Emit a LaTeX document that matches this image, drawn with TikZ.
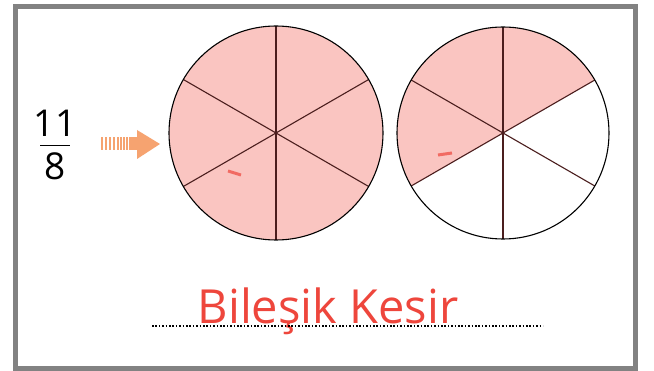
\documentclass[tikz,border=0pt]{standalone}
\usepackage{fontspec}
\setmainfont{Open Sans}
\usepackage{tikz}
\usetikzlibrary{arrows.meta,positioning,calc}

\definecolor{pinkfill}{RGB}{250,197,193}
\definecolor{spoke}{RGB}{75,30,30}
\definecolor{arroworange}{RGB}{246,163,112}
\definecolor{framegray}{RGB}{130,130,130}
\definecolor{inkred}{RGB}{238,70,60}

\begin{document}
\begin{tikzpicture}[x=1pt, y=-1pt]
  \tikzstyle{piece} = [fill=pinkfill, draw=none]
  \tikzstyle{spokeline} = [draw=spoke, line width=1.1pt]
  \tikzstyle{rim} = [draw=black, line width=1.1pt]
  \tikzstyle{inkmark} = [draw=inkred!80, line width=3pt]
  \useasboundingbox (0,0) rectangle (654,371);
  \fill[white] (0,0) rectangle (654,371);
  % frame
  \draw[framegray, line width=5pt] (15.5,6.5) rectangle (635.5,368.5);
  % fraction
  \node[font=\fontsize{37}{39}\selectfont, inner sep=1pt] (num) at (55,123) {11};
  \node[font=\fontsize{37}{39}\selectfont, inner sep=1pt] (den) at (55,166) {8};
  \draw[line width=1.6pt] (40,145.5) -- (70,145.5);
  % arrow
  \foreach \x in {101,105,109,113,116.5,120,123,126,129}
    \fill[arroworange] (\x,137.5) rectangle ++(2.2,13);
  \fill[arroworange] (131,137.5) rectangle (138,150.5);
  \fill[arroworange] (137,130) -- (160,144) -- (137,159) -- cycle;
  % left circle: all six pieces
  \coordinate (cA) at (276,133);
  \foreach \a in {30,90,150,210,270,330}
    \fill[piece] (cA) -- ++(\a:107) arc[start angle=\a, end angle=\a+60, radius=107] -- cycle;
  \draw[inkmark] (228,171) -- (241,175);
  \foreach \a in {30,90,150,210,270,330}
    \draw[spokeline] (cA) -- ++(\a:107);
  \draw[rim] (cA) circle[radius=107];
  % right circle: three pieces (upper left)
  \coordinate (cB) at (503,133);
  \foreach \a in {150,210,270}
    \fill[piece] (cB) -- ++(\a:106) arc[start angle=\a, end angle=\a+60, radius=106] -- cycle;
  \draw[inkmark] (438,155) -- (452,153);
  \foreach \a in {30,90,150,210,270,330}
    \draw[spokeline] (cB) -- ++(\a:106);
  \draw[rim] (cB) circle[radius=106];
  % label
  \node[font=\fontsize{47}{49}\selectfont, text=inkred, anchor=base] (label) at (328,324) {Bileşik Kesir};
  \draw[line width=2pt, dash pattern=on 1.5pt off 1.9pt] (152,326.5) -- (543,326.5);
\end{tikzpicture}
\end{document}
